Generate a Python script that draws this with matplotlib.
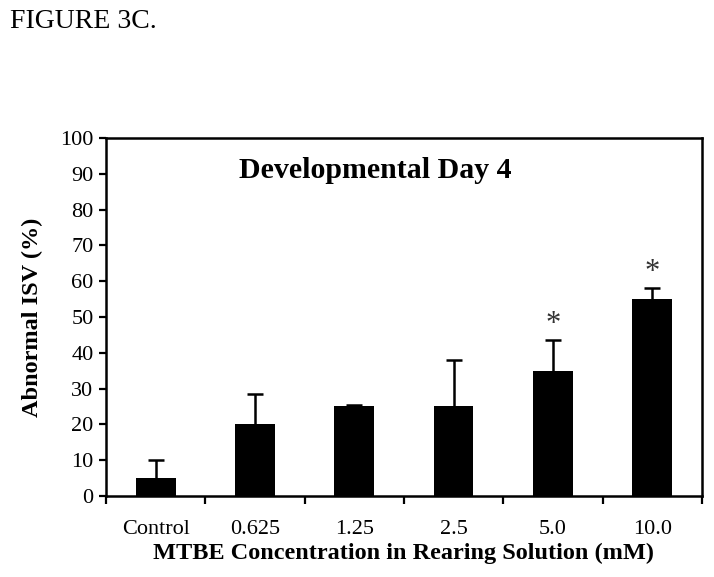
import matplotlib.pyplot as plt

categories = ["Control", "0.625", "1.25", "2.5", "5.0", "10.0"]
values = [5, 20, 25, 25, 35, 55]
errors = [5, 8.5, 0.3, 13, 8.5, 3]
significant = [False, False, False, False, True, True]

plt.rcParams['font.family'] = ['Liberation Serif', 'DejaVu Serif']

fig = plt.figure(figsize=(7.14, 5.77), dpi=100)
ax = fig.add_axes([0.1485, 0.1404, 0.8345, 0.6204])

x = list(range(len(categories)))
ax.bar(x, values, width=0.4, color="black", zorder=2)
eb = ax.errorbar(x, values, yerr=[[0] * len(errors), errors], fmt="none",
                 ecolor="black", elinewidth=1.8, capsize=5.5, capthick=1.8,
                 zorder=3)
# keep only the upper caps
eb[1][0].set_visible(False)

for xi, v, e, s in zip(x, values, errors, significant):
    if s:
        ax.text(xi, v + e + 4.5, "*", ha="center", va="center",
                fontsize=22, color="#333333")

ax.text(2.21, 91, "Developmental Day 4", ha="center", va="center",
        fontsize=21.5, fontweight="bold")

ax.set_xlim(-0.5, 5.5)
ax.set_ylim(0, 100)
ax.set_yticks(range(0, 101, 10))
ax.set_xticks([i - 0.5 for i in range(len(categories) + 1)], minor=False)
ax.set_xticklabels([])
ax.set_xticks(x, minor=True)
ax.set_xticklabels(categories, minor=True)
ax.tick_params(axis="x", which="minor", length=0, labelsize=16, pad=17)
ax.tick_params(axis="x", which="major", direction="out", length=6, width=1.6)
ax.tick_params(axis="y", direction="out", length=5, width=1.6, labelsize=16,
               pad=4)

for sp in ax.spines.values():
    sp.set_linewidth(1.8)

ax.set_xlabel("MTBE Concentration in Rearing Solution (mM)", fontsize=17.5,
              fontweight="bold", labelpad=3)
ax.set_ylabel("Abnormal ISV (%)", fontsize=17.5, fontweight="bold", labelpad=12)

fig.text(0.014, 0.962, "FIGURE 3C.", fontsize=20, ha="left", va="center")

fig.savefig("out.png", dpi=100)
